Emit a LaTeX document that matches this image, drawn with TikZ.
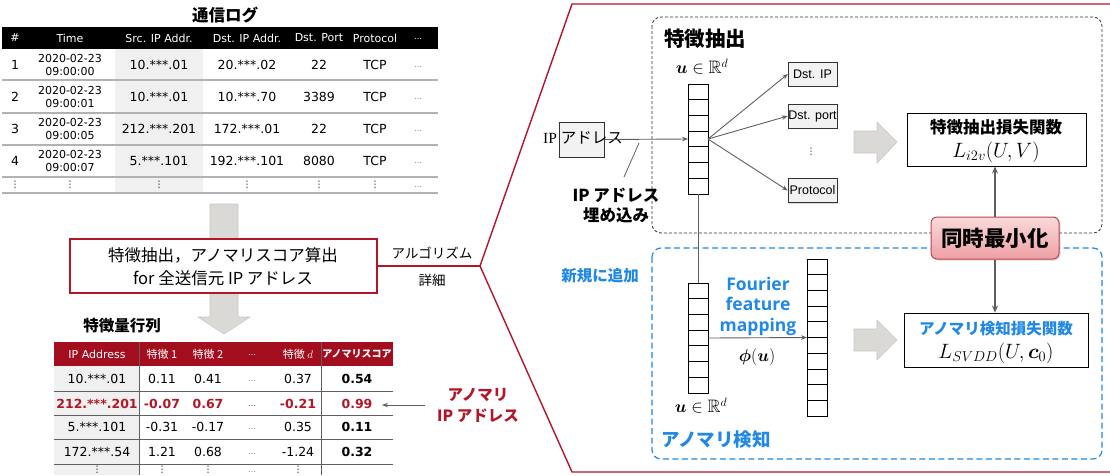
\documentclass[tikz,border=0pt]{standalone}
\usepackage{amsmath,amssymb,bm}
\usepackage{fontspec}
\setmainfont{DejaVu Sans}
\newfontfamily\jp{Noto Sans CJK JP}
\newfontfamily\arialf{Liberation Sans}
\newfontfamily\serf{Liberation Serif}
\newfontfamily\opens{Open Sans}
\usetikzlibrary{arrows.meta,calc,shadows}
\newcommand\myfs[1]{\fontsize{#1}{#1}\selectfont}
\definecolor{dred}{RGB}{178,22,40}
\definecolor{hdrred}{RGB}{163,14,30}
\definecolor{jblue}{RGB}{33,137,228}
\definecolor{blockgray}{RGB}{218,217,213}
\definecolor{blockedge}{RGB}{200,199,195}
\definecolor{lngray}{RGB}{95,95,90}
\definecolor{simtop}{RGB}{250,218,218}
\definecolor{simbot}{RGB}{238,160,165}
\definecolor{simedge}{RGB}{185,70,78}
\tikzset{
  txt/.style={inner sep=0pt, outer sep=0pt, anchor=center},
  hd/.style={txt, text=white, font=\myfs{11}},
  cell/.style={txt, font=\myfs{12.5}},
  datec/.style={txt, font=\fontsize{11}{12.2}\selectfont, align=center},
  dotc/.style={txt, font=\myfs{8}, text=gray},
  mhd/.style={txt, text=white, font=\jp\myfs{11}},
  redc/.style={txt, font=\bfseries\myfs{12.5}, text=dred},
  jpt/.style={txt, font=\jp\myfs{#1}},
  jpb/.style={txt, font=\jp\bfseries\myfs{#1}},
  sep/.style={gray!60, line width=1.5pt},
  msep/.style={gray!75!black, line width=1pt},
  vec/.style={draw, line width=0.8pt, inner sep=0pt, outer sep=0pt, minimum width=20pt},
  smallbox/.style={draw=black!80, fill=gray!10, inner sep=0pt, minimum width=49pt, minimum height=24pt, font=\arialf\myfs{12.5}, drop shadow={shadow xshift=1.2pt, shadow yshift=-1.2pt, opacity=0.3}},
  lossbox/.style={draw, line width=0.9pt, fill=white, inner sep=0pt},
  arr/.style={-{Stealth[length=6pt,width=4.5pt]}, lngray, line width=0.9pt},
  arrb/.style={-{Stealth[length=7pt,width=6pt,open]}, lngray, line width=1.4pt},
  block/.style={fill=blockgray, draw=blockedge, line width=0.6pt},
}
\begin{document}
\begin{tikzpicture}[x=1pt,y=-1pt]
\useasboundingbox (0,0) rectangle (1110,475);

% ===== communication log table =====
\node[jpb=16.5] (logtitle) at (225,15) {通信ログ};
\fill[black] (2,27) rectangle (438,49);
\fill[gray!12] (115,49) rectangle (203,193);
\foreach \yy in {80,113,145,177,193} \draw[sep] (2,\yy) -- (438,\yy);
\node[hd] (h1) at (15,38) {\#};
\node[hd] (h2) at (70,38) {Time};
\node[hd] (h3) at (159,38) {Src. IP Addr.};
\node[hd] (h4) at (247,38) {Dst. IP Addr.};
\node[hd] (h5) at (319,38) {Dst. Port};
\node[hd] (h6) at (375,38) {Protocol};
\node[hd, font=\myfs{8}] (h7) at (418,39) {…};
\foreach \n/\yy/\tm/\src/\dst/\pt in {1/65/09:00:00/10.***.01/20.***.02/22, 2/97/09:00:01/10.***.01/10.***.70/3389, 3/129/09:00:05/212.***.201/172.***.01/22, 4/161/09:00:07/5.***.101/192.***.101/8080}{
  \node[cell] (r\n a) at (15,\yy) {\n};
  \node[datec] (r\n b) at (70,\yy) {2020-02-23\\\tm};
  \node[cell] (r\n c) at (159,\yy) {\src};
  \node[cell] (r\n d) at (247,\yy) {\dst};
  \node[cell] (r\n e) at (319,\yy) {\pt};
  \node[cell] (r\n f) at (375,\yy) {TCP};
  \node[dotc] (r\n g) at (418,\yy+2) {…};
}
\foreach \xx/\k in {15/a,70/b,159/c,247/d,319/e,375/f}{
  \node[txt, font=\myfs{9}] (r5\k) at (\xx,185) {⋮};
}
\node[dotc] (r5g) at (418,187) {…};

% ===== big down arrow and process box =====
\filldraw[block] (210,204) -- (238,204) -- (238,317) -- (250,317) -- (224,334) -- (198,317) -- (210,317) -- cycle;
\node[draw=dred, line width=1.2pt, fill=white, minimum width=307pt, minimum height=54pt, inner sep=0pt] (proc) at (223.5,266) {};
\node[jpt=16.5] (proc1) at (223,255) {特徴抽出，アノマリスコア算出};
\node[jpt=16.5] (proc2) at (223,278) {for 全送信元 IP アドレス};
\coordinate (apex) at (480,266);
\draw[dred, line width=1.4pt] (proc.east) -- (apex);
\draw[dred, line width=1.4pt] (1110,4) -- (572,4) -- (apex) -- (572,472) -- (1110,472);
\node[jpt=13.5] (algo1) at (432,253) {アルゴリズム};
\node[jpt=13.5] (algo2) at (432,280) {詳細};

% ===== feature matrix =====
\node[jpb=15.5] (mtitle) at (122,326) {特徴量行列};
\fill[hdrred] (54,342) rectangle (393,366);
\fill[gray!12] (54,366) rectangle (139,475);
\foreach \yy in {391,415,439,464} \draw[msep] (54,\yy) -- (393,\yy);
\draw[msep] (139,342) -- (139,475);
\draw[msep] (321,342) -- (321,475);
\node[hd] (mh1) at (97,354) {IP Address};
\node[mhd] (mh2) at (162,354) {特徴 1};
\node[mhd] (mh3) at (208,354) {特徴 2};
\node[hd, font=\myfs{8}] (mh4) at (252,355) {…};
\node[mhd] (mh5) at (298,354) {特徴 $d$};
\node[txt, text=white, font=\jp\bfseries\myfs{10}] (mh6) at (357,354) {アノマリスコア};
% rows
\node[cell] (m1a) at (97,379) {10.***.01};
\node[cell] (m1b) at (162,379) {0.11};
\node[cell] (m1c) at (208,379) {0.41};
\node[dotc] (m1d) at (252,381) {…};
\node[cell] (m1e) at (298,379) {0.37};
\node[cell, font=\bfseries\myfs{12.5}] (m1f) at (357,379) {0.54};
\node[redc] (m2a) at (97,404) {212.***.201};
\node[redc] (m2b) at (162,404) {-0.07};
\node[redc] (m2c) at (208,404) {0.67};
\node[dotc, text=dred] (m2d) at (252,406) {…};
\node[redc] (m2e) at (298,404) {-0.21};
\node[redc] (m2f) at (357,404) {0.99};
\node[cell] (m3a) at (97,427) {5.***.101};
\node[cell] (m3b) at (162,427) {-0.31};
\node[cell] (m3c) at (208,427) {-0.17};
\node[dotc] (m3d) at (252,429) {…};
\node[cell] (m3e) at (298,427) {0.35};
\node[cell, font=\bfseries\myfs{12.5}] (m3f) at (357,427) {0.11};
\node[cell] (m4a) at (97,452) {172.***.54};
\node[cell] (m4b) at (162,452) {1.21};
\node[cell] (m4c) at (208,452) {0.68};
\node[dotc] (m4d) at (252,454) {…};
\node[cell] (m4e) at (298,452) {-1.24};
\node[cell, font=\bfseries\myfs{12.5}] (m4f) at (357,452) {0.32};
\node[txt, font=\myfs{9}] (m5a) at (97,470) {⋮};
\node[txt, font=\myfs{9}] (m5b) at (162,470) {⋮};
\node[txt, font=\myfs{9}] (m5c) at (208,470) {⋮};
\node[dotc] (m5d) at (252,472) {…};
\node[txt, font=\myfs{9}] (m5e) at (298,470) {⋮};
% anomaly label
\node[txt, text=dred, align=center, font=\jp\bfseries\fontsize{15.5}{21}\selectfont] (anl) at (478,405) {アノマリ\\IP アドレス};
\coordinate (anS) at (425,405);
\coordinate (anE) at (382,405);
\draw[arr] (anS) -- (anE);

% ===== right panel: dashed boxes =====
\draw[black!80, dashed, dash pattern=on 3pt off 2pt, line width=0.8pt, rounded corners=9pt] (652,17) rectangle (1102,233);
\draw[jblue, dash pattern=on 6pt off 3.5pt, line width=1.2pt, rounded corners=9pt] (652,248) rectangle (1102,459);
\node[jpb=20.5] (fetitle) at (705,39) {特徴抽出};
\node[jpb=18.5, text=jblue] (adtitle) at (716,440) {アノマリ検知};
\node[jpb=15.5, text=jblue] (newl) at (600,276) {新規に追加};

% vectors
\node[vec, minimum height=110pt] (v1) at (698,139) {};
\foreach \k in {1,...,6} \draw[line width=0.8pt] ($(v1.north west)!\k/7!(v1.south west)$) -- ($(v1.north east)!\k/7!(v1.south east)$);
\node[vec, minimum height=110pt] (v2) at (698,338) {};
\foreach \k in {1,...,6} \draw[line width=0.8pt] ($(v2.north west)!\k/7!(v2.south west)$) -- ($(v2.north east)!\k/7!(v2.south east)$);
\node[vec, minimum height=157pt] (v3) at (817,337.5) {};
\foreach \k in {1,...,9} \draw[line width=0.8pt] ($(v3.north west)!\k/10!(v3.south west)$) -- ($(v3.north east)!\k/10!(v3.south east)$);
\node[txt, font=\myfs{18}] (u1) at (702,67) {$\bm{u}\in\mathbb{R}^d$};
\node[txt, font=\myfs{18}] (u2) at (701,406) {$\bm{u}\in\mathbb{R}^d$};

% IP address box
\node[draw=black!80, fill=gray!10, minimum width=45pt, minimum height=35pt, inner sep=0pt] (ipb) at (582,139.5) {};
\node[txt] (ipt) at (583,138) {\serf\myfs{15.5}IP \jp\myfs{15.5}アドレス};
\draw[arr] (ipb.east) -- (v1.west);
\node[txt, align=center, font=\jp\bfseries\fontsize{16.5}{20}\selectfont] (embl) at (616,205) {IP アドレス\\埋め込み};
\coordinate (eA) at (624,177);
\coordinate (eB) at (639,143);
\draw[lngray, line width=0.8pt] (eA) -- (eB);

% output boxes
\node[smallbox] (dip) at (812.5,74) {Dst. IP};
\node[smallbox] (dport) at (812.5,116) {Dst. port};
\node[smallbox] (proto) at (812.5,190.5) {Protocol};
\node[txt, font=\myfs{9}] (vd) at (811,152) {⋮};
\draw[arr] (v1.east) -- (dip.west);
\draw[arr] (v1.east) -- (dport.west);
\draw[arr] (v1.east) -- (proto.west);

% link to anomaly part
\draw[lngray, line width=0.9pt] (v1.south) -- (v2.north);
\draw[arr] (v2.east) -- (v3.west);
\node[txt, text=jblue, align=center, font=\opens\bfseries\fontsize{17.5}{20.5}\selectfont] (ffm) at (758,306) {Fourier\\feature\\mapping};
\node[txt, font=\myfs{18}] (phi) at (757,357) {$\bm{\phi}(\bm{u})$};

% block arrows
\filldraw[block] (854,131) -- (877,131) -- (877,122) -- (897,142) -- (877,163) -- (877,153) -- (854,153) -- cycle;
\filldraw[block] (854,329) -- (877,329) -- (877,320) -- (897,340) -- (877,360) -- (877,351) -- (854,351) -- cycle;

% loss boxes
\node[lossbox, minimum width=179pt, minimum height=53pt] (loss1) at (996.5,139.5) {};
\node[jpb=16.5] (loss1t) at (996,127) {特徴抽出損失関数};
\node[txt, font=\myfs{22}] (loss1m) at (996,152) {$L_{i2v}(U,V)$};
\node[lossbox, minimum width=184pt, minimum height=54pt] (loss2) at (996,340) {};
\node[jpb=15.5, text=jblue] (loss2t) at (996,329) {アノマリ検知損失関数};
\node[txt, font=\myfs{22}] (loss2m) at (996,353) {$L_{SVDD}(U,\bm{c}_0)$};

% simultaneous minimisation
\node[draw=simedge, line width=1pt, rounded corners=6pt, top color=simtop, bottom color=simbot, minimum width=128pt, minimum height=42pt, inner sep=0pt, drop shadow={shadow xshift=1.5pt, shadow yshift=-1.5pt, opacity=0.3}] (sim) at (995,238) {};
\node[jpb=21.5] (simt) at (995,238) {同時最小化};
\draw[arrb] (sim.north) -- (loss1.south -| sim.north);
\draw[arrb] (sim.south) -- (loss2.north -| sim.south);
\end{tikzpicture}
\end{document}
